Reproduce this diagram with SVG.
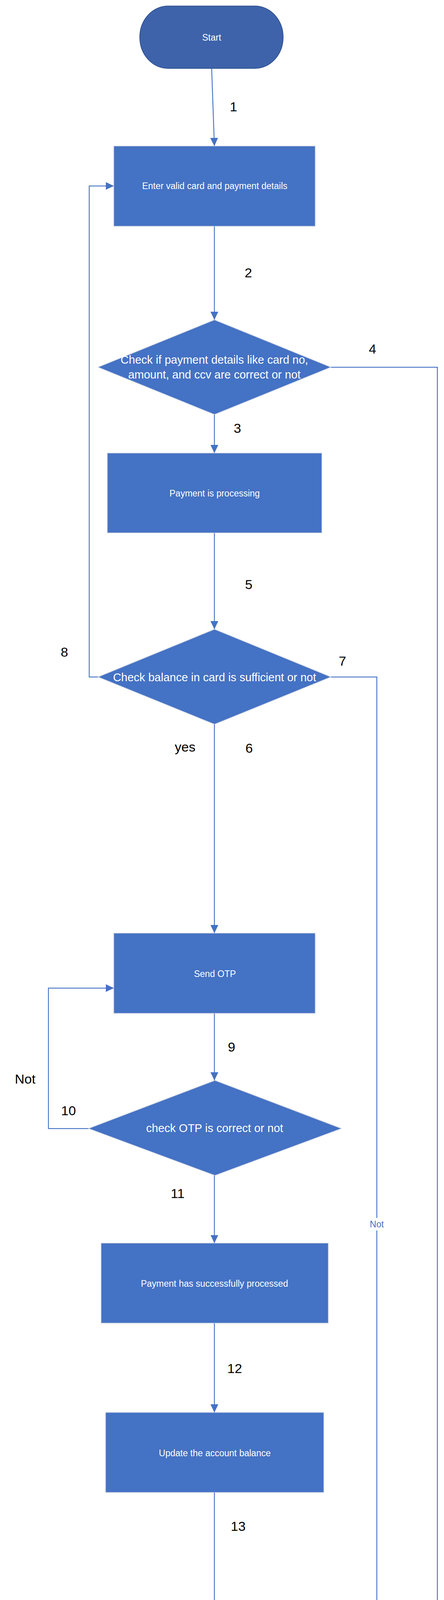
<svg xmlns="http://www.w3.org/2000/svg" width="1137" height="4480" viewBox="0 0 1137 4480">
  <style>
    .term { fill: #3E63AB; stroke: #2F528F; stroke-width: 2; }
    .proc { fill: #4472C4; stroke: #B9C4DC; stroke-width: 1.5; }
    .ntext { font-family: "Liberation Sans", Arial, sans-serif; fill: #FFFFFF; text-anchor: middle; }
    .t23 { font-size: 23px; }
    .t29 { font-size: 29px; }
    .t34 { font-size: 34px; }
    .conn { fill: none; stroke: #4472C4; stroke-width: 2.25; }
    .lbl { font-family: "Liberation Sans", Arial, sans-serif; font-size: 34px; fill: #000000; text-anchor: middle; }
    .lblblue { font-family: "Liberation Sans", Arial, sans-serif; font-size: 23px; fill: #4472C4; text-anchor: middle; }
  </style>
  <defs>
    <marker id="arrow" markerUnits="userSpaceOnUse" markerWidth="21" markerHeight="20" refX="21" refY="10" orient="auto" viewBox="0 0 21 20">
      <path d="M0,0 L21,10 L0,20 z" fill="#4472C4"/>
    </marker>
  </defs>
  <rect width="1137" height="4480" fill="#FFFFFF"/>

  <g id="connectors">
    <path class="conn" d="M542,175 L549,374" marker-end="url(#arrow)"/>
    <path class="conn" d="M549,579 L549,819" marker-end="url(#arrow)"/>
    <path class="conn" d="M549,1061 L549,1160" marker-end="url(#arrow)"/>
    <path class="conn" d="M847,940 L1120,940 L1120,4383 L975,4383 A10,10 0 0 0 955,4383 L758,4383" marker-end="url(#arrow)"/>
    <path class="conn" d="M549,1364 L549,1611" marker-end="url(#arrow)"/>
    <path class="conn" d="M549,1854 L549,2389" marker-end="url(#arrow)"/>
    <path class="conn" d="M847,1733 L965,1733 L965,3118 M965,3150 L965,4427.5 L743,4427.5" marker-end="url(#arrow)"/>
    <path class="conn" d="M252,1733 L228.5,1733 L228.5,476 L291.5,476" marker-end="url(#arrow)"/>
    <path class="conn" d="M549,2594 L549,2766" marker-end="url(#arrow)"/>
    <path class="conn" d="M227,2889 L124,2889 L124,2529.5 L291.5,2529.5" marker-end="url(#arrow)"/>
    <path class="conn" d="M549,3009 L549,3182.5" marker-end="url(#arrow)"/>
    <path class="conn" d="M549,3387 L549,3616" marker-end="url(#arrow)"/>
    <path class="conn" d="M549,3820.5 L549,4304" marker-end="url(#arrow)"/>

    <text class="lbl" x="598" y="285">1</text>
    <text class="lbl" x="636" y="710">2</text>
    <text class="lbl" x="608" y="1108">3</text>
    <text class="lbl" x="954" y="905">4</text>
    <text class="lbl" x="637" y="1508">5</text>
    <text class="lbl" x="474" y="1924">yes</text>
    <text class="lbl" x="638" y="1927">6</text>
    <text class="lbl" x="877" y="1704">7</text>
    <text class="lbl" x="165" y="1681">8</text>
    <text class="lbl" x="593" y="2692">9</text>
    <text class="lbl" x="64.5" y="2774">Not</text>
    <text class="lbl" x="175.5" y="2855">10</text>
    <text class="lbl" x="455" y="3067">11</text>
    <text class="lbl" x="601" y="3515">12</text>
    <text class="lbl" x="610" y="3919">13</text>
    <text class="lblblue" x="965" y="3142">Not</text>
  </g>

  <g id="start">
    <rect class="term" x="358" y="15.5" width="367" height="159.5" rx="72" ry="79.75"/>
    <text class="ntext t23" x="542" y="103.5">Start</text>
  </g>

  <g id="enter-details">
    <rect class="proc" x="291.5" y="374" width="515.5" height="205"/>
    <text class="ntext t23" x="550" y="484">Enter valid card and payment details</text>
  </g>

  <g id="check-details">
    <polygon class="proc" points="549.3,819 847,940 549.3,1061 251.6,940"/>
    <text class="ntext t29" x="549" y="930.5">Check if payment details like card no,</text>
    <text class="ntext t29" x="549" y="968.5">amount, and ccv are correct or not</text>
  </g>

  <g id="processing">
    <rect class="proc" x="275" y="1160" width="549" height="204"/>
    <text class="ntext t23" x="549.7" y="1271">Payment is processing</text>
  </g>

  <g id="check-balance">
    <polygon class="proc" points="549.3,1611 847,1733 549.3,1854 251.6,1733"/>
    <text class="ntext t29" x="549.5" y="1744">Check balance in card is sufficient or not</text>
  </g>

  <g id="send-otp">
    <rect class="proc" x="291.5" y="2389" width="515.5" height="205"/>
    <text class="ntext t23" x="550.4" y="2500.5">Send OTP</text>
  </g>

  <g id="check-otp">
    <polygon class="proc" points="550.5,2766 874,2889 550.5,3009 227,2889"/>
    <text class="ntext t29" x="549.7" y="2898">check OTP is correct or not</text>
  </g>

  <g id="success">
    <rect class="proc" x="259" y="3182.5" width="581.5" height="204.5"/>
    <text class="ntext t23" x="549.3" y="3294">Payment has successfully processed</text>
  </g>

  <g id="update-balance">
    <rect class="proc" x="270.5" y="3616" width="558.5" height="204.5"/>
    <text class="ntext t23" x="550" y="3728">Update the account balance</text>
  </g>

  <g id="end">
    <rect class="term" x="341.5" y="4304" width="416.5" height="159" rx="82" ry="79.5"/>
    <text class="ntext t34" x="550.5" y="4394">END</text>
  </g>
</svg>
